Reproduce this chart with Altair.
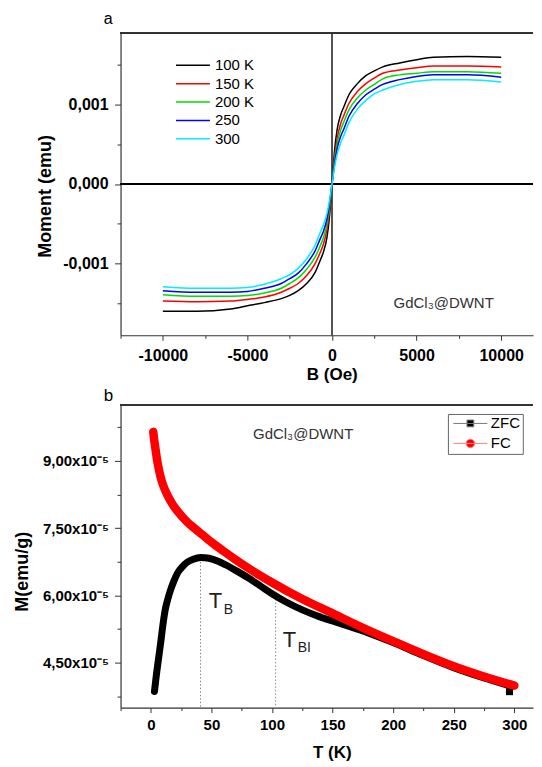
import altair as alt
import pandas as pd

FONT = "Liberation Sans"

# ---------------- panel a : M(B) curves ----------------
B_OE = [-10000, -8000, -6000, -5000, -4000, -3000, -2500, -2000, -1500, -1000, -700, -500, -300, -150,
        0, 150, 300, 500, 700, 1000, 1500, 2000, 2500, 3000, 4000, 5000, 6000, 8000, 10000]
M_100K = [-0.00160, -0.00160, -0.00157, -0.00153, -0.00149, -0.00144, -0.00140, -0.00134, -0.00125, -0.00111,
          -0.00096, -0.00085, -0.00067, -0.00041, 0.0, 0.00042, 0.00068, 0.00086, 0.00097, 0.00112,
          0.00126, 0.00136, 0.00142, 0.00147, 0.00152, 0.00156, 0.00159, 0.00160, 0.00159]
M_150K = [-0.00147, -0.00148, -0.00147, -0.00145, -0.00142, -0.00136, -0.00131, -0.00125, -0.00115, -0.00100,
          -0.00086, -0.00075, -0.00057, -0.00034, 0.0, 0.00034, 0.00057, 0.00075, 0.00086, 0.00101,
          0.00116, 0.00126, 0.00133, 0.00139, 0.00143, 0.00146, 0.00148, 0.00148, 0.00147]
M_200K = [-0.00139, -0.00141, -0.00141, -0.00140, -0.00137, -0.00131, -0.00125, -0.00118, -0.00107, -0.00092,
          -0.00078, -0.00067, -0.00050, -0.00029, 0.0, 0.00029, 0.00050, 0.00067, 0.00078, 0.00093,
          0.00108, 0.00118, 0.00125, 0.00132, 0.00137, 0.00139, 0.00141, 0.00141, 0.00139]
M_250 = [-0.00134, -0.00136, -0.00136, -0.00135, -0.00131, -0.00125, -0.00119, -0.00112, -0.00100, -0.00084,
         -0.00069, -0.00059, -0.00044, -0.00025, 0.0, 0.00025, 0.00044, 0.00059, 0.00069, 0.00085,
         0.00101, 0.00112, 0.00119, 0.00125, 0.00131, 0.00135, 0.00137, 0.00137, 0.00134]
M_300 = [-0.00129, -0.00131, -0.00131, -0.00130, -0.00126, -0.00119, -0.00114, -0.00106, -0.00094, -0.00077,
         -0.00061, -0.00051, -0.00037, -0.00021, 0.0, 0.00021, 0.00037, 0.00051, 0.00061, 0.00077,
         0.00094, 0.00105, 0.00113, 0.00118, 0.00125, 0.00129, 0.00131, 0.00131, 0.00128]
TEMPS = ["100 K", "150 K", "200 K", "250", "300"]
COLORS = ["#000000", "#ff0000", "#00dd00", "#0000ff", "#00eeff"]

# ---------------- panel b : ZFC / FC ----------------
T_FC = [2, 3, 4, 5, 6, 8, 10, 14, 18, 22, 30, 36, 45, 50, 60, 70, 80, 90, 100, 125, 150, 175, 200, 225, 250, 275, 300]
M_FC = [9.65, 9.42, 9.24, 9.05, 8.90, 8.65, 8.47, 8.22, 8.03, 7.88, 7.64, 7.50, 7.30, 7.19, 6.99, 6.80, 6.62,
        6.45, 6.29, 5.92, 5.60, 5.28, 4.98, 4.69, 4.42, 4.19, 3.99]
T_ZFC = [3, 4, 5, 6, 7, 8, 10, 12, 14, 16, 19, 22, 26, 30, 35, 41, 48, 55, 62, 70, 80, 90, 100, 112, 125, 137,
         150, 165, 180, 200, 225, 250, 275, 298]
M_ZFC = [3.86, 4.10, 4.32, 4.52, 4.72, 4.92, 5.35, 5.70, 5.92, 6.10, 6.32, 6.50, 6.64, 6.74, 6.81, 6.85, 6.83,
         6.77, 6.68, 6.56, 6.40, 6.22, 6.04, 5.85, 5.68, 5.55, 5.43, 5.30, 5.16, 4.95, 4.66, 4.39, 4.16, 3.97]
ZFC_LAST_T = [296]
ZFC_LAST_M = [3.855]
SCALE_B = 1e-5

TB_T = [41, 103]
TB_TOP = [6.75e-5, 6.0e-5]

W = 413
H = 303

# ---------- data frames ----------
rows = []
for name, ser in zip(TEMPS, [M_100K, M_150K, M_200K, M_250, M_300]):
    for b, m in zip(B_OE, ser):
        rows.append({"B": b, "M": m, "T": name})
df_a = pd.DataFrame(rows)

df_fc = pd.DataFrame({"T": T_FC, "M": [v * SCALE_B for v in M_FC]})
df_zfc = pd.DataFrame({"T": T_ZFC, "M": [v * SCALE_B for v in M_ZFC]})
df_zlast = pd.DataFrame({"T": ZFC_LAST_T, "M": [v * SCALE_B for v in ZFC_LAST_M]})
df_tb = pd.DataFrame({"T": TB_T, "M": TB_TOP, "M2": [3.5e-5, 3.5e-5]})
df_leg = pd.DataFrame({"series": ["ZFC", "FC"], "T": [-1000, -1000], "M": [1e-6, 1e-6]})

axis_common = dict(
    labelFont=FONT, titleFont=FONT, labelFontWeight="bold", titleFontWeight="bold",
    labelColor="#000", titleColor="#000", domainColor="#333", domainWidth=1.2,
    tickColor="#333", tickWidth=1, grid=False, labelOverlap=False, labelFlush=False,
)

# ---------- panel a ----------
xa = alt.X(
    "B:Q",
    scale=alt.Scale(domain=[-12500, 11880], nice=False, zero=False),
    axis=alt.Axis(
        values=[-12500, -10000, -7500, -5000, -2500, 0, 2500, 5000, 7500, 10000],
        labelExpr="datum.value % 5000 === 0 ? datum.value + '' : ''",
        tickSize={"condition": {"test": "datum.value % 5000 === 0", "value": 5}, "value": 3},
        labelFontSize=16, labelBaseline="alphabetic", labelPadding=20,
        title="B (Oe)", titleFontSize=17, titleBaseline="alphabetic", titleY=44.5,
        titleX=211.5,
        **axis_common,
    ),
)
ya = alt.Y(
    "M:Q",
    scale=alt.Scale(domain=[-0.0019, 0.0019], nice=False, zero=False),
    axis=alt.Axis(
        values=[-0.0015, -0.001, -0.0005, 0.0, 0.0005, 0.001, 0.0015],
        labelExpr="abs(datum.value*1000 - round(datum.value*1000)) < 1e-6 ? (datum.value < -1e-9 ? '-' : '') + replace(format(abs(datum.value), '.3f'), '.', ',') : ''",
        tickSize={"condition": {"test": "abs(datum.value*1000 - round(datum.value*1000)) < 1e-6", "value": 6}, "value": 3.5},
        labelFontSize=16, labelPadding=6.5, labelBaseline="middle",
        title="Moment (emu)", titleFontSize=18, titleAngle=270, titleBaseline="middle",
        titleAlign="center", titleX=-75, titleY=163.5,
        **axis_common,
    ),
)

lines_a = alt.Chart(df_a).mark_line(strokeWidth=1.5, interpolate="monotone").encode(
    x=xa, y=ya,
    color=alt.Color(
        "T:N", scale=alt.Scale(domain=TEMPS, range=COLORS),
        legend=alt.Legend(
            orient="none", legendX=54.5, legendY=25, title=None, symbolType="stroke",
            symbolSize=1156, symbolStrokeWidth=1.5, labelFontSize=15, labelFont=FONT,
            labelColor="#000", rowPadding=2.4, labelOffset=4, padding=0, clipHeight=15.4,
        ),
    ),
    order=alt.Order("B:Q"),
)
vline = alt.Chart(df_a).mark_rule(color="#555", strokeWidth=1.3).encode(x=alt.datum(0))
hline = alt.Chart(df_a).mark_rule(color="#000", strokeWidth=1.2).encode(y=alt.datum(0))
topline_a = alt.Chart(df_a).mark_rule(color="#333", strokeWidth=1.2).encode(
    x=alt.value(0), x2=alt.value(W), y=alt.value(0))
lbl_a = alt.Chart(pd.DataFrame({"B": [3636], "M": [-0.00149], "txt": ["GdCl\u2083@DWNT"]})).mark_text(
    align="left", baseline="middle", fontSize=15, font=FONT, color="#333").encode(x=xa, y=ya, text="txt:N")
panel_a = alt.Chart(pd.DataFrame({"p": ["a"]})).mark_text(
    align="left", baseline="alphabetic", fontSize=16, font=FONT, color="#000").encode(
    x=alt.value(-16.8), y=alt.value(-8.5), text="p:N")

chart_a = alt.layer(vline, hline, lines_a, topline_a, lbl_a, panel_a).properties(width=W, height=H)

# ---------- panel b ----------
xb = alt.X(
    "T:Q",
    scale=alt.Scale(domain=[-25, 315.4], nice=False, zero=False),
    axis=alt.Axis(
        values=[-25, 0, 25, 50, 75, 100, 125, 150, 175, 200, 225, 250, 275, 300],
        labelExpr="datum.value % 50 === 0 ? datum.value + '' : ''",
        tickSize={"condition": {"test": "datum.value % 50 === 0", "value": 5}, "value": 3},
        labelFontSize=15, labelBaseline="alphabetic", labelPadding=17,
        title="T (K)", titleFontSize=17, titleBaseline="alphabetic", titleY=50.4,
        titleX=211.5,
        **axis_common,
    ),
)
yb = alt.Y(
    "M:Q",
    scale=alt.Scale(domain=[3.5e-5, 1.025e-4], nice=False, zero=False),
    axis=alt.Axis(
        values=[3.75e-5, 4.5e-5, 5.25e-5, 6.0e-5, 6.75e-5, 7.5e-5, 8.25e-5, 9.0e-5, 9.75e-5],
        labelExpr="abs(datum.value*1e5/1.5 - round(datum.value*1e5/1.5)) < 1e-6 ? replace(format(datum.value*1e5, '.2f'), '.', ',') + 'x10\u207b\u2075' : ''",
        tickSize={"condition": {"test": "abs(datum.value*1e5/1.5 - round(datum.value*1e5/1.5)) < 1e-6", "value": 6}, "value": 3.5},
        labelFontSize=15, labelPadding=6, labelBaseline="middle",
        title="M(emu/g)", titleFontSize=18, titleAngle=270, titleBaseline="middle",
        titleAlign="center", titleX=-98.4, titleY=166.5,
        **axis_common,
    ),
)

zfc_line = alt.Chart(df_zfc).mark_line(color="#000", strokeWidth=7, strokeCap="round", strokeJoin="round",
                                       interpolate="monotone").encode(x=xb, y=yb)
zfc_pt = alt.Chart(df_zlast).mark_square(color="#000", size=50, opacity=1).encode(x=xb, y=yb)
fc_line = alt.Chart(df_fc).mark_line(color="#ff0000", strokeWidth=8.5, strokeCap="round", strokeJoin="round",
                                     interpolate="monotone").encode(x=xb, y=yb)

PATH_ZFC = "M-1,0H1M-0.2,-0.2H0.2V0.2H-0.2Z"
PATH_FC = "M-1,0H1M0.25,0A0.25,0.25,0,1,1,-0.25,0A0.25,0.25,0,1,1,0.25,0Z"
leg_b = dict(orient="none", legendX=327.8, legendY=9, title=None, symbolSize=1156, symbolStrokeWidth=1,
             labelFontSize=15, labelFont=FONT, labelColor="#000", rowPadding=4, labelOffset=3,
             symbolOffset=3, padding=2, strokeColor="#666", cornerRadius=0, clipHeight=15)
legend_pts = alt.Chart(df_leg).mark_point(filled=True, clip=True, size=1156, strokeWidth=1, opacity=1).encode(
    x=xb, y=yb,
    fill=alt.Fill("series:N", scale=alt.Scale(domain=["ZFC", "FC"], range=["#000000", "#ff0000"]),
                  legend=alt.Legend(**leg_b)),
    stroke=alt.Stroke("series:N", scale=alt.Scale(domain=["ZFC", "FC"], range=["#7a7a7a", "#ff8080"]),
                      legend=alt.Legend(**leg_b)),
    shape=alt.Shape("series:N", scale=alt.Scale(domain=["ZFC", "FC"], range=[PATH_ZFC, PATH_FC]),
                    legend=alt.Legend(**leg_b)),
)

tb_rules = alt.Chart(df_tb).mark_rule(color="#888", strokeWidth=1, strokeDash=[1.5, 2]).encode(
    x=xb, y=yb, y2="M2:Q")

df_ann = pd.DataFrame({
    "T": [47.8, 60.2, 108.8, 121.2],
    "M": [5.71e-5, 5.58e-5, 4.85e-5, 4.74e-5],
    "txt": ["T", "B", "T", "BI"],
    "fs": [22, 14, 22, 14],
})
ann = alt.Chart(df_ann).mark_text(align="left", baseline="alphabetic", font=FONT, color="#222").encode(
    x=xb, y=yb, text="txt:N", size=alt.Size("fs:Q", scale=None))
lbl_b = alt.Chart(pd.DataFrame({"T": [84.3], "M": [9.6e-5], "txt": ["GdCl\u2083@DWNT"]})).mark_text(
    align="left", baseline="middle", fontSize=15, font=FONT, color="#333").encode(x=xb, y=yb, text="txt:N")
topline_b = alt.Chart(df_fc).mark_rule(color="#333", strokeWidth=1.2).encode(
    x=alt.value(0), x2=alt.value(W), y=alt.value(0))
panel_b = alt.Chart(pd.DataFrame({"p": ["b"]})).mark_text(
    align="left", baseline="alphabetic", fontSize=17, font=FONT, color="#000").encode(
    x=alt.value(-16.8), y=alt.value(-3.6), text="p:N")

chart_b = alt.layer(tb_rules, zfc_line, zfc_pt, fc_line, legend_pts, ann, lbl_b, topline_b, panel_b).properties(
    width=W, height=H)

chart = alt.vconcat(chart_a, chart_b, spacing=69.8, bounds="flush").resolve_scale(
    x="independent", y="independent", color="independent",
    fill="independent", stroke="independent", shape="independent",
).resolve_legend(
    color="independent", fill="independent", stroke="independent", shape="independent",
).configure_view(stroke=None).properties(
    padding={"left": 4.7, "top": 2.2, "right": 0, "bottom": 0}
)

chart.save("out.html", embed_options={"renderer": "svg", "actions": False})
